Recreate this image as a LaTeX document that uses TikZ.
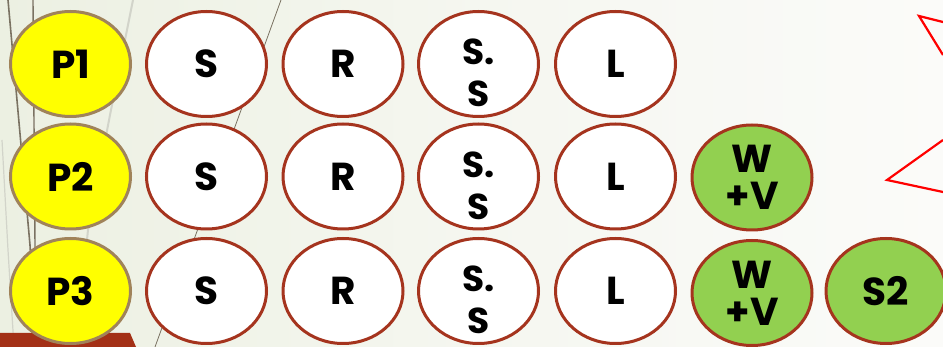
\documentclass[tikz,border=0pt]{standalone}
\usepackage{fontspec}
\setmainfont{Poppins}[BoldFont={* Bold}]
\usetikzlibrary{shapes.geometric}
\definecolor{bgleft}{HTML}{ECF0E2}
\definecolor{bgright}{HTML}{FBFBF9}
\definecolor{rim}{HTML}{A5341E}
\definecolor{prim}{HTML}{A0835A}
\definecolor{pyellow}{HTML}{FFFF00}
\definecolor{pgreen}{HTML}{92D050}
\definecolor{barbrown}{HTML}{A33016}
\definecolor{stemdark}{HTML}{7A7262}
\definecolor{stemlight}{HTML}{D2D4CA}
\tikzset{
  cell/.style={ellipse, minimum width=120pt, minimum height=105pt, inner sep=0pt,
    line width=3pt, align=center, font=\fontsize{39}{37}\selectfont\bfseries},
  pcell/.style={cell, draw=prim, fill=pyellow},
  wcell/.style={cell, draw=rim, fill=white},
  gcell/.style={cell, draw=rim, fill=pgreen},
  twoline/.style={inner sep=0pt, align=center, font=\fontsize{36}{42}\selectfont\bfseries},
}
\begin{document}
\begin{tikzpicture}[x=1pt,y=-1pt]
\useasboundingbox (0,0) rectangle (943,347);
\clip (0,0) rectangle (943,347);
\shade[left color=bgleft, right color=bgright, middle color=bgright!60!bgleft] (0,0) rectangle (943,347);
% decorative stems
\draw[stemlight, line width=2pt] (133,0) -- (110,115) -- (88,230) -- (76,347);
\draw[stemlight, line width=1.2pt] (2,140) -- (8,250) -- (14,347);
\draw[stemdark, line width=1.6pt] (8,0) -- (30,245) -- (36,347);
\draw[stemdark, line width=1.4pt] (33,0) -- (35,245) -- (37,347);
\draw[stemdark, line width=0.8pt] (281,0) -- (155,347);
\fill[barbrown] (0,333) -- (130,333) -- (136,347) -- (0,347) -- cycle;
% red star
\draw[red, line width=2.2pt, line join=miter] (943,22) -- (919,16) -- (943,55);
\draw[red, line width=2.2pt, line join=miter] (943,140) -- (887,180) -- (943,192);
% row 1
\node[pcell] (p1) at (70.5,64) {P1};
\node[wcell] (s1) at (206.5,64) {S};
\node[wcell] (r1) at (343,64) {R};
\node[wcell] (ss1) at (478.5,64) {};
\node[twoline] (ss1t) at ([yshift=-9pt]ss1.center) {S.\\S};
\node[wcell] (l1) at (615.5,64) {L};
% row 2
\node[pcell] (p2) at (70.5,176.5) {P2};
\node[wcell] (s2) at (206.5,176.5) {S};
\node[wcell] (r2) at (343,176.5) {R};
\node[wcell] (ss2) at (478.5,176.5) {};
\node[twoline] (ss2t) at ([yshift=-9pt]ss2.center) {S.\\S};
\node[wcell] (l2) at (615.5,176.5) {L};
\node[gcell] (wv2) at (752,177.5) {W\\+V};
% row 3
\node[pcell] (p3) at (70.5,291) {P3};
\node[wcell] (s3) at (206.5,291) {S};
\node[wcell] (r3) at (343,291) {R};
\node[wcell] (ss3) at (478.5,291) {};
\node[twoline] (ss3t) at ([yshift=-9pt]ss3.center) {S.\\S};
\node[wcell] (l3) at (615.5,291) {L};
\node[gcell] (wv3) at (752,293) {W\\+V};
\node[gcell] (sz3) at (886,291) {S2};
\end{tikzpicture}
\end{document}
